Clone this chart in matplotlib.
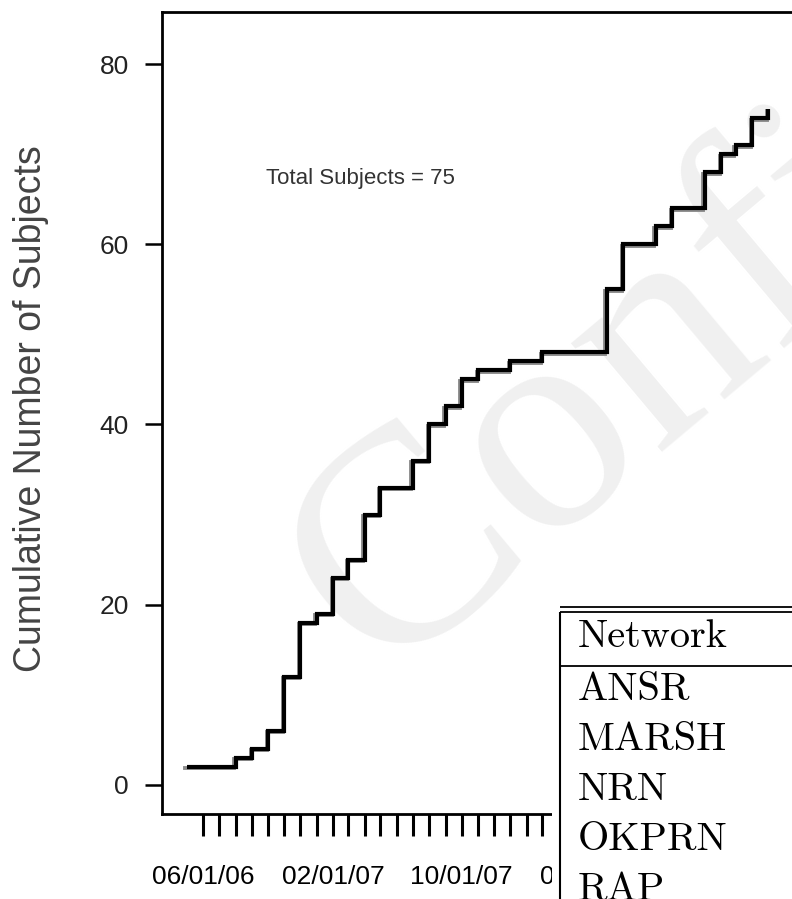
import matplotlib
matplotlib.use('Agg')
import matplotlib.pyplot as plt
import matplotlib.dates as mdates
import matplotlib.ticker as mticker
import matplotlib.transforms as mtransforms
import pandas as pd

# cumulative enrolment, recorded on the first of each month it changed
enroll_month = ['2006-05-01', '2006-08-01', '2006-09-01', '2006-10-01', '2006-11-01',
                '2006-12-01', '2007-01-01', '2007-02-01', '2007-03-01', '2007-04-01',
                '2007-05-01', '2007-07-01', '2007-08-01', '2007-09-01', '2007-10-01',
                '2007-11-01', '2008-01-01', '2008-03-01', '2008-07-01', '2008-08-01',
                '2008-10-01', '2008-11-01', '2009-01-01', '2009-02-01', '2009-03-01',
                '2009-04-01', '2009-05-01']
cumulative_subjects = [2, 3, 4, 6, 12, 18, 19, 23, 25, 30, 33, 36, 40, 42, 45, 46,
                       47, 48, 55, 60, 62, 64, 68, 70, 71, 74, 75]
total_subjects = 75

label_dates = ['2006-06-01', '2007-02-01', '2007-10-01', '2008-06-01', '2009-02-01']
y_ticks = [0, 20, 40, 60, 80]
networks = ['ANSR', 'MARSH', 'NRN', 'OKPRN', 'RAP']

sans = ['Liberation Sans', 'DejaVu Sans']

dates = pd.to_datetime(enroll_month)
tick_months = pd.date_range('2006-06-01', '2009-05-01', freq='MS')

fig = plt.figure(figsize=(7.92, 8.99), dpi=100)
ax = fig.add_axes([0.2045, 0.09455, 0.805, 0.8921])

# faint watermark behind the curve
ax.text(0.478, 0.245, 'Confidential', transform=fig.transFigure,
        rotation=40, rotation_mode='anchor', ha='left', va='baseline',
        fontsize=222, family='Liberation Serif', color='#f0f0f0', zorder=0.5)

shadow = mtransforms.offset_copy(ax.transData, fig=fig, x=-1.5, y=-1.5, units='dots')
ax.plot(dates, cumulative_subjects, drawstyle='steps-post', color='#8c8c8c',
        lw=2.8, transform=shadow, solid_joinstyle='miter', zorder=2)
ax.plot(dates, cumulative_subjects, drawstyle='steps-post', color='black',
        lw=3.0, solid_joinstyle='miter', solid_capstyle='butt', zorder=3)

ax.text(0.312, 0.793, 'Total Subjects = %d' % total_subjects, transform=ax.transAxes,
        ha='center', va='center', fontsize=16, family=sans, color='#333333')

ax.set_xlim(pd.Timestamp('2006-03-15'), pd.Timestamp('2009-06-29'))
ax.set_ylim(-3.22, 85.77)

ax.xaxis.set_major_locator(mticker.FixedLocator(mdates.date2num(pd.to_datetime(label_dates))))
ax.xaxis.set_major_formatter(mdates.DateFormatter('%m/%d/%y'))
ax.xaxis.set_minor_locator(mticker.FixedLocator(mdates.date2num(tick_months)))
ax.tick_params(axis='x', which='both', direction='out', length=16, width=2.2,
               pad=21, labelsize=19, color='black')
for lab in ax.get_xticklabels():
    lab.set_family(sans)

ax.set_yticks(y_ticks)
ax.tick_params(axis='y', direction='out', length=12, width=1.8, pad=12,
               labelsize=19, labelcolor='#222222')
for lab in ax.get_yticklabels():
    lab.set_family(sans)

ax.set_ylabel('Cumulative Number of Subjects', fontsize=27, family=sans,
              color='#444444', va='center')
ax.yaxis.set_label_coords(-0.2055, 0.506)

for s in ax.spines.values():
    s.set_linewidth(2.0)

# network table laid over the lower right corner, in pixel units
tab = fig.add_axes([552 / 792, 0, 240 / 792, (899 - 603) / 899])
tab.set_xlim(552, 792)
tab.set_ylim(899, 603)
tab.set_xticks([])
tab.set_yticks([])
for s in tab.spines.values():
    s.set_visible(False)
tab.set_facecolor('white')
tab.hlines([607, 612, 666], 560, 792, color='black', lw=1.3)
tab.vlines(560, 612, 899, color='black', lw=1.5)
tab.text(578, 647, 'Network', family='cmr10', fontsize=29, va='baseline')
for i, name in enumerate(networks):
    tab.text(578, 700 + 50 * i, name, family='cmr10', fontsize=29, va='baseline')

fig.savefig('out.png', dpi=100)
